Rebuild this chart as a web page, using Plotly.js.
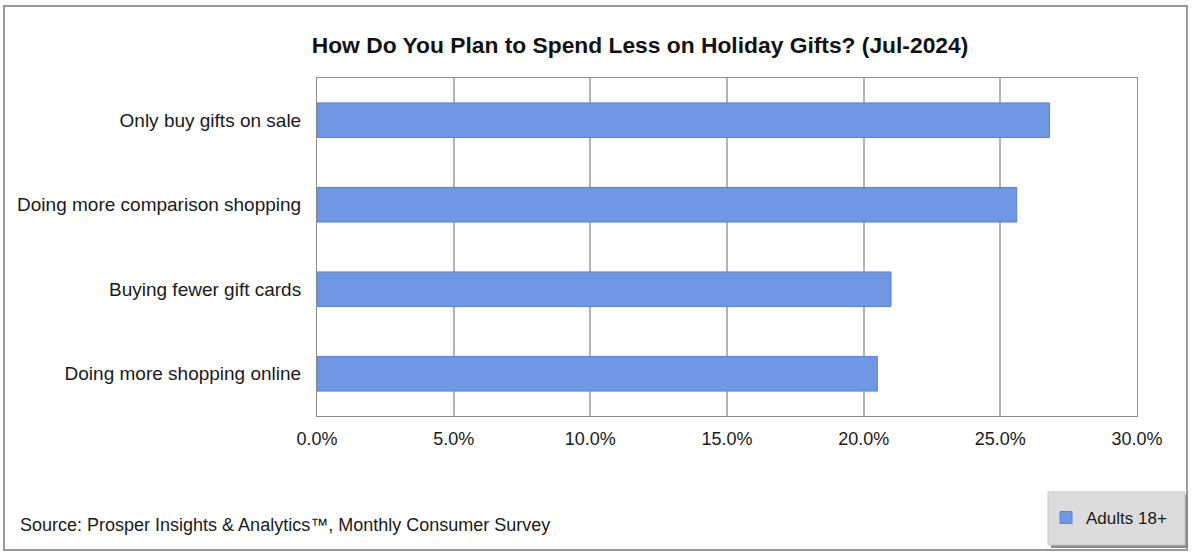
<!DOCTYPE html>
<html>
<head>
<meta charset="utf-8">
<script src="https://cdn.plot.ly/plotly-3.0.1.min.js"></script>
<style>
html,body{margin:0;padding:0;background:#fff;}
#chart{width:1192px;height:552px;}
</style>
</head>
<body>
<div id="chart"></div>
<script>
const categories = ["Only buy gifts on sale", "Doing more comparison shopping", "Buying fewer gift cards", "Doing more shopping online"];
const values = [26.8, 25.6, 21.0, 20.5];
const seriesName = "Adults 18+";
const tickVals = [0, 5, 10, 15, 20, 25, 30];
const tickText = ["0.0%", "5.0%", "10.0%", "15.0%", "20.0%", "25.0%", "30.0%"];
const chartTitle = "How Do You Plan to Spend Less on Holiday Gifts? (Jul-2024)";
const sourceText = "Source: Prosper Insights & Analytics™, Monthly Consumer Survey";

const L = 317, R = 55, T = 78, B = 136, W = 1192, H = 552;
const pw = W - L - R, ph = H - T - B;
const px = v => (v - L) / pw;
const py = v => (H - B - v) / ph;

const trace = {
  type: 'bar',
  orientation: 'h',
  x: values,
  y: categories,
  name: seriesName,
  width: 0.41,
  marker: {color: '#7097e3', line: {color: '#5a80d4', width: 1}},
  showlegend: true,
  hoverinfo: 'x+y'
};

const layout = {
  width: W, height: H,
  margin: {l: L, r: R, t: T, b: B, pad: 0},
  paper_bgcolor: '#ffffff',
  plot_bgcolor: '#ffffff',
  font: {family: 'Liberation Sans, Arial, sans-serif', color: '#1a1a1a', size: 18},
  title: {
    text: '<b>' + chartTitle + '</b>',
    x: 640 / W, xanchor: 'center', xref: 'container',
    y: 1 - 45 / H, yanchor: 'middle', yref: 'container',
    font: {size: 22.8, color: '#111', family: 'Liberation Sans, Arial, sans-serif'}
  },
  xaxis: {
    range: [0, 30],
    tickvals: tickVals,
    ticktext: tickText,
    showgrid: true,
    gridcolor: '#b4b4b4',
    gridwidth: 2,
    showline: true,
    linecolor: '#8c8c8c',
    linewidth: 1,
    mirror: true,
    zeroline: false,
    ticks: '',
    ticklabelstandoff: 6,
    tickfont: {size: 18, color: '#1a1a1a'},
    fixedrange: true
  },
  yaxis: {
    categoryorder: 'array',
    categoryarray: categories.slice().reverse(),
    autorange: true,
    showgrid: false,
    showline: true,
    linecolor: '#8c8c8c',
    linewidth: 1,
    mirror: true,
    zeroline: false,
    ticks: '',
    ticklabelstandoff: 11,
    tickfont: {size: 19, color: '#1a1a1a'},
    fixedrange: true
  },
  bargap: 0.59,
  showlegend: true,
  legend: {
    x: px(1046), y: py(518), xref: 'paper', yref: 'paper',
    xanchor: 'left', yanchor: 'middle',
    bgcolor: 'rgba(0,0,0,0)',
    borderwidth: 0,
    font: {size: 17, color: '#1a1a1a'},
    itemwidth: 30
  },
  shapes: [
    {type: 'rect', xref: 'paper', yref: 'paper', layer: 'below',
     x0: px(4), x1: px(1187), y0: py(550), y1: py(6),
     line: {color: '#9a9a9a', width: 2}, fillcolor: 'rgba(0,0,0,0)'},
    {type: 'rect', xref: 'paper', yref: 'paper', layer: 'below',
     x0: px(1051), x1: px(1188), y0: py(548), y1: py(495),
     line: {width: 0}, fillcolor: '#8a8a8a'},
    {type: 'rect', xref: 'paper', yref: 'paper', layer: 'below',
     x0: px(1048), x1: px(1185), y0: py(545), y1: py(492),
     line: {color: '#c8c8c8', width: 1}, fillcolor: '#dcdcdc'}
  ],
  annotations: [
    {text: sourceText, xref: 'paper', yref: 'paper',
     x: px(18), y: py(525), xanchor: 'left', yanchor: 'middle',
     showarrow: false, font: {size: 18, color: '#1a1a1a'}}
  ]
};

Plotly.newPlot('chart', [trace], layout, {displayModeBar: false, staticPlot: true});
</script>
</body>
</html>
